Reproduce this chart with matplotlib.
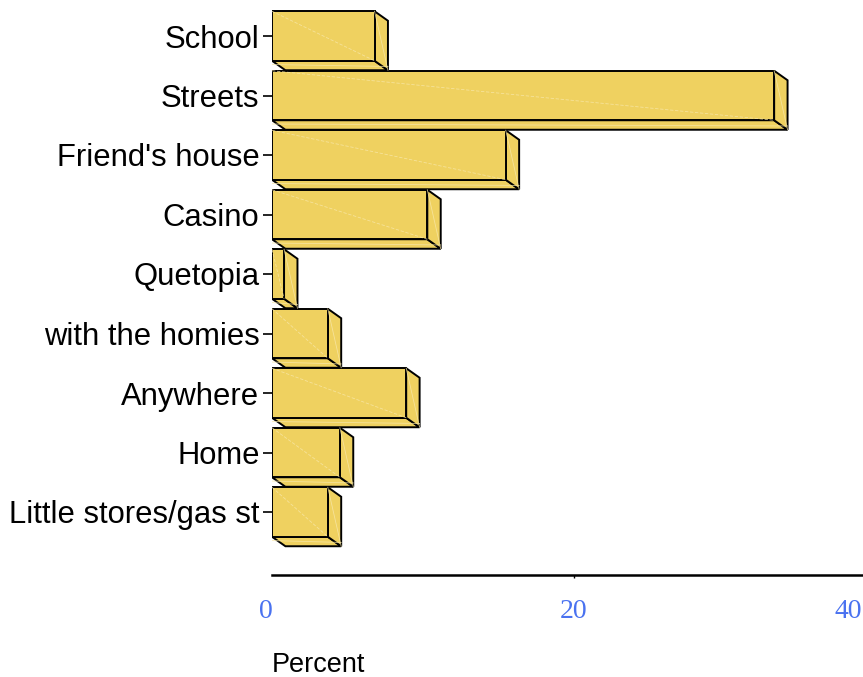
import numpy as np
import matplotlib.pyplot as plt
from matplotlib.patches import Polygon
from matplotlib.transforms import offset_copy

# where people hang out, share of answers (%)
places = ['School', 'Streets', "Friend's house", 'Casino', 'Quetopia',
          'with the homies', 'Anywhere', 'Home', 'Little stores/gas st']
percent = [6.8, 33.3, 15.5, 10.3, 0.8, 3.7, 8.9, 4.5, 3.7]
xticks = [0, 20, 40]

W, H = 863, 677
fig = plt.figure(figsize=(W / 100, H / 100), dpi=100)

# axes: left edge at x=0 of the data, bottom edge at the x axis line
left, bottom = 272, 575
ax = fig.add_axes([left / W, 1 - bottom / H, 1 - left / W, bottom / H])

px_per_unit = 15.08
row = 59.5
first = 36
ax.set_xlim(0, (W - left) / px_per_unit)
ax.set_ylim((bottom - first) / row, -first / row)

bar_h = 49.5 / row
dx = 13.4 / px_per_unit
dy = 9.5 / row

face = '#EFD160'
edge = 'black'
streak = '#F8E7A8'

for i, v in enumerate(percent):
    top = i - bar_h / 2
    bot = i + bar_h / 2
    front = [(0, top), (v, top), (v, bot), (0, bot)]
    side = [(v, top), (v + dx, top + dy), (v + dx, bot + dy), (v, bot)]
    under = [(0, bot), (v, bot), (v + dx, bot + dy), (dx, bot + dy)]
    for pts in (under, side, front):
        ax.add_patch(Polygon(pts, closed=True, facecolor=face,
                             edgecolor=edge, linewidth=1.4, joinstyle='miter'))
    # faint light streaks across the faces
    ax.plot([0, v], [top, bot], color=streak, lw=0.6, ls=(0, (4, 2)), alpha=0.8)
    ax.plot([v, v + dx], [top, bot + dy], color=streak, lw=0.6, alpha=0.8)
    ax.plot([0, v + dx], [bot + dy * 0.4, bot + dy * 0.6], color=streak,
            lw=0.6, alpha=0.8)

ax.set_yticks(range(len(places)))
ax.set_yticklabels(places, fontsize=22.3, family=['Liberation Sans', 'DejaVu Sans'])
ax.tick_params(axis='y', length=6.5, width=1.2, pad=2.5, color='black')

for s in ('top', 'right', 'left'):
    ax.spines[s].set_visible(False)
ax.spines['bottom'].set_linewidth(1.8)

ax.set_xticks([20])
ax.set_xticklabels([])
ax.tick_params(axis='x', length=2, width=1, direction='out')

# x tick labels in blue serif, pulled in at the ends
nudge = {0: -6, 20: 0, 40: -27}
for t in xticks:
    tr = offset_copy(ax.get_xaxis_transform(), fig=fig,
                     x=nudge[t], y=-36, units='dots')
    ax.text(t, 0, str(t), transform=tr, ha='center', va='center',
            fontsize=20, color='#4A72F0', family='Liberation Serif',
            clip_on=False)

fig.text(left / W, 1 - 672 / H, 'Percent', ha='left', va='baseline',
         fontsize=19.5, family='Liberation Sans')

fig.savefig('out.png', dpi=100)
